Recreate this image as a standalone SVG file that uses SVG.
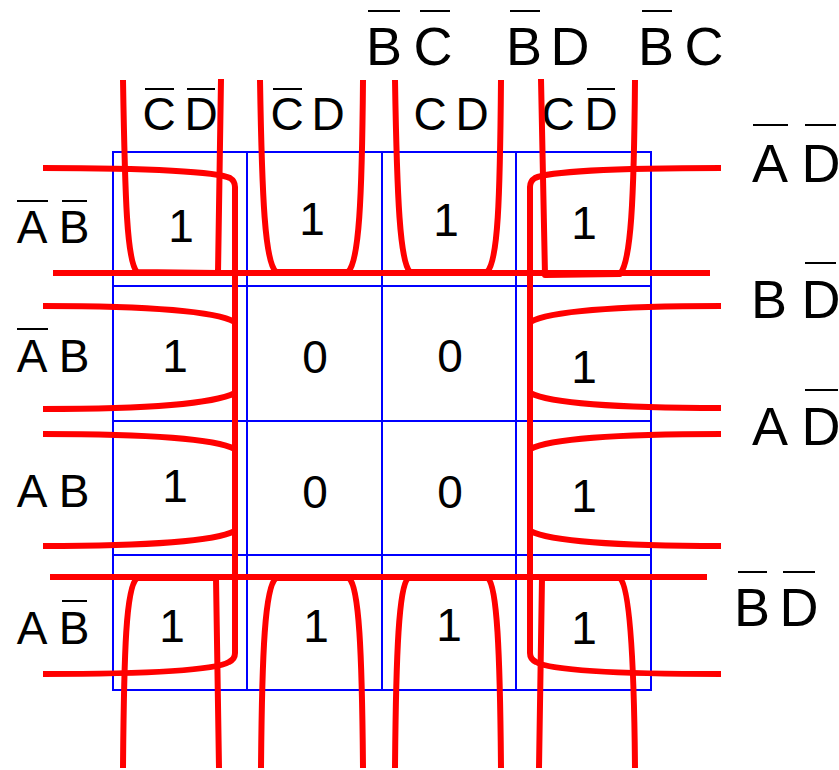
<svg xmlns="http://www.w3.org/2000/svg" width="839" height="770" viewBox="0 0 839 770">
<style>
.grid{stroke:#0000ff;stroke-width:2;fill:none}
.loop{stroke:#ff0000;stroke-width:6;fill:none;stroke-linejoin:round}
.t{font-family:"Liberation Sans",Arial,sans-serif;fill:#000;text-anchor:middle}
.s46{font-size:46px}
.s54{font-size:54px}
.bar{stroke:#000;stroke-width:2}
</style>
<rect width="839" height="770" fill="#fff"/>
<g id="grid" class="grid">
<rect x="113" y="152" width="538" height="538"/>
<line x1="247" y1="152" x2="247" y2="690"/>
<line x1="382" y1="152" x2="382" y2="690"/>
<line x1="516" y1="152" x2="516" y2="690"/>
<line x1="113" y1="286" x2="651" y2="286"/>
<line x1="113" y1="421" x2="651" y2="421"/>
<line x1="113" y1="555" x2="651" y2="555"/>
</g>
<g id="cells" class="t s46">
<g id="c11"><text x="181" y="242">1</text></g>
<g id="c12"><text x="312" y="235">1</text></g>
<g id="c13"><text x="446" y="236">1</text></g>
<g id="c14"><text x="584" y="239">1</text></g>
<g id="c21"><text x="175" y="372">1</text></g>
<g id="c22"><text x="315" y="373">0</text></g>
<g id="c23"><text x="450" y="372">0</text></g>
<g id="c24"><text x="584" y="383">1</text></g>
<g id="c31"><text x="175" y="502">1</text></g>
<g id="c32"><text x="315" y="508">0</text></g>
<g id="c33"><text x="450" y="508">0</text></g>
<g id="c34"><text x="584" y="512">1</text></g>
<g id="c41"><text x="172" y="642">1</text></g>
<g id="c42"><text x="316" y="642">1</text></g>
<g id="c43"><text x="449" y="641">1</text></g>
<g id="c44"><text x="584" y="644">1</text></g>
</g>
<g id="colHeaders" class="t s46">
<text x="159" y="130">C</text><text x="201" y="130">D</text>
<text x="287" y="130">C</text><text x="328" y="130">D</text>
<text x="430" y="130">C</text><text x="472" y="130">D</text>
<text x="558" y="130">C</text><text x="601" y="130">D</text>
<g class="bar"><line x1="145" y1="89" x2="174" y2="89"/><line x1="187" y1="89" x2="215" y2="89"/><line x1="273" y1="89" x2="302" y2="89"/><line x1="587" y1="89" x2="615" y2="89"/></g>
</g>
<g id="rowHeaders" class="t s46">
<text x="32" y="243">A</text><text x="74" y="243">B</text>
<text x="32" y="372">A</text><text x="74" y="372">B</text>
<text x="32" y="507">A</text><text x="74" y="507">B</text>
<text x="32" y="644">A</text><text x="74" y="644">B</text>
<g class="bar"><line x1="17" y1="201" x2="48" y2="201"/><line x1="62" y1="201" x2="87" y2="201"/><line x1="17" y1="329" x2="48" y2="329"/><line x1="62" y1="601" x2="87" y2="601"/></g>
</g>
<g id="topTerms" class="t s54">
<text x="384" y="65">B</text><text x="433" y="65">C</text>
<text x="524" y="65">B</text><text x="570" y="65">D</text>
<text x="656" y="65">B</text><text x="704" y="65">C</text>
<g class="bar"><line x1="368" y1="11" x2="400" y2="11"/><line x1="420" y1="11" x2="450" y2="11"/><line x1="510" y1="11" x2="540" y2="11"/><line x1="642" y1="11" x2="672" y2="11"/></g>
</g>
<g id="rightTerms" class="t s54">
<text x="770" y="182">A</text><text x="821" y="182">D</text>
<text x="769" y="318">B</text><text x="821" y="318">D</text>
<text x="770" y="445">A</text><text x="821" y="445">D</text>
<text x="752" y="626">B</text><text x="799" y="626">D</text>
<g class="bar"><line x1="753" y1="125" x2="788" y2="125"/><line x1="805" y1="125" x2="836" y2="125"/><line x1="805" y1="263" x2="836" y2="263"/><line x1="805" y1="390" x2="838" y2="390"/><line x1="738" y1="572" x2="767" y2="572"/><line x1="783" y1="572" x2="815" y2="572"/></g>
</g>
<g id="connectors" class="loop">
<path d="M53,273 L710,273"/>
<path d="M50,577 L707,577"/>
<path d="M123,80 C125,200 127,262 137,272 L218,273 L221,79"/>
<path d="M260,80 C262,200 265,262 276,272 L348,272 C359,262 362,200 363,80"/>
<path d="M395,80 C397,200 400,262 410,272 L487,272 C498,262 500,200 501,80"/>
<path d="M541,79 L545,275 L620,274 C631,262 634,200 635,80"/>
<path d="M123,768 C124,650 126,587 137,578 L216,578 L219,768"/>
<path d="M261,768 C262,650 265,587 276,578 L349,578 C359,587 362,650 363,768"/>
<path d="M395,768 C396,650 399,587 408,578 L488,578 C497,587 500,650 501,768"/>
<path d="M539,768 L542,578 L620,578 C629,587 634,650 635,768"/>
<path d="M43,168 C150,168 218,172 230,178 Q235,181 235,187 L235,653 Q235,659 229,662 C215,670 150,674 43,674"/>
<path d="M43,306 C150,306 215,311 235,322"/>
<path d="M235,393 C215,403 150,409 43,409"/>
<path d="M43,434 C150,434 215,439 235,449"/>
<path d="M235,531 C215,541 150,546 43,546"/>
<path d="M721,168 C610,168 547,172 535,178 Q530,181 530,187 L530,653 Q530,659 536,662 C550,670 610,674 721,674"/>
<path d="M721,306 C610,306 550,311 530,322"/>
<path d="M530,393 C550,403 610,408 721,408"/>
<path d="M721,434 C610,434 550,439 530,449"/>
<path d="M530,531 C550,541 610,546 721,546"/>
</g>
</svg>
